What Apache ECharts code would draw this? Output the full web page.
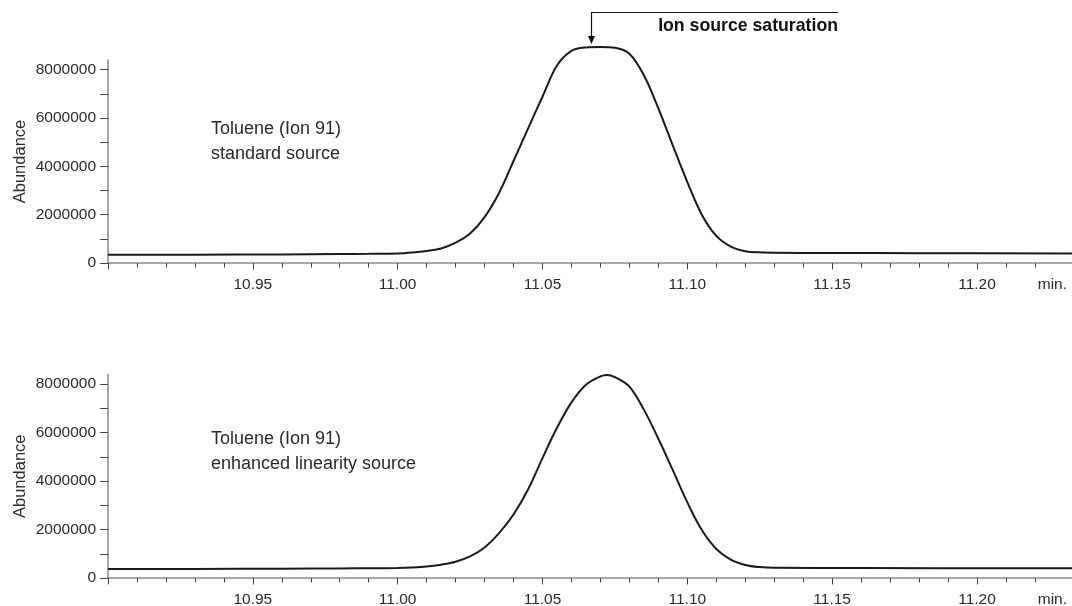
<!DOCTYPE html>
<html>
<head>
<meta charset="utf-8">
<script src="https://cdn.jsdelivr.net/npm/echarts@6/dist/echarts.min.js"></script>
<style>
html,body{margin:0;padding:0;background:#fff;}
#chart{width:1072px;height:606px;}
</style>
</head>
<body>
<div id="chart"></div>
<script>
// ---- data ----
const topTime  = [10.900, 10.930, 10.960, 10.980, 10.990, 11.000, 11.005, 11.010, 11.015, 11.020, 11.025, 11.030, 11.035, 11.040, 11.045, 11.050, 11.055, 11.060, 11.065, 11.070, 11.075, 11.080, 11.085, 11.090, 11.095, 11.100, 11.105, 11.110, 11.115, 11.120, 11.125, 11.130, 11.150, 11.180, 11.2328];
const topAbund = [340000, 345000, 355000, 368000, 378000, 395000, 435000, 500000, 600000, 840000, 1220000, 1900000, 2900000, 4220000, 5560000, 6880000, 8170000, 8780000, 8920000, 8940000, 8910000, 8660000, 7770000, 6400000, 4860000, 3350000, 2000000, 1120000, 680000, 490000, 440000, 425000, 415000, 405000, 390000];

const botTime  = [10.900, 10.930, 10.960, 10.980, 10.990, 11.000, 11.005, 11.010, 11.015, 11.020, 11.025, 11.030, 11.035, 11.040, 11.045, 11.050, 11.055, 11.060, 11.065, 11.070, 11.0722, 11.075, 11.080, 11.085, 11.090, 11.095, 11.100, 11.105, 11.110, 11.115, 11.120, 11.125, 11.130, 11.160, 11.2328];
const botAbund = [370000, 375000, 385000, 395000, 402000, 410000, 430000, 470000, 550000, 670000, 890000, 1260000, 1850000, 2620000, 3650000, 4950000, 6200000, 7250000, 7980000, 8320000, 8380000, 8290000, 7900000, 6950000, 5750000, 4450000, 3120000, 1980000, 1200000, 760000, 540000, 450000, 420000, 410000, 405000];

const xMin = 10.90;
const xMax = 11.2328;
const xLabelValues = [10.95, 11.00, 11.05, 11.10, 11.15, 11.20];
const xTickLabels  = ['10.95', '11.00', '11.05', '11.10', '11.15', '11.20'];
const xMajorTicks  = [10.90, 10.95, 11.00, 11.05, 11.10, 11.15, 11.20];
const xMinorTicks  = [10.91, 10.92, 10.93, 10.94, 10.96, 10.97, 10.98, 10.99, 11.01, 11.02, 11.03, 11.04, 11.06, 11.07, 11.08, 11.09, 11.11, 11.12, 11.13, 11.14, 11.16, 11.17, 11.18, 11.19, 11.21, 11.22, 11.2328];
const xUnit = 'min.';

const yMax = 8400000;
const yLabelValues = [0, 2000000, 4000000, 6000000, 8000000];
const yTickLabels  = ['0', '2000000', '4000000', '6000000', '8000000'];
const yTicks       = [0, 1000000, 2000000, 3000000, 4000000, 5000000, 6000000, 7000000, 8000000];
const yName = 'Abundance';

const topLabel = ['Toluene (Ion 91)', 'standard source'];
const botLabel = ['Toluene (Ion 91)', 'enhanced linearity source'];
const noteText = 'Ion source saturation';

// ---- styling ----
const SANS = '"Liberation Sans", Arial, sans-serif';
const TXT = '#2a2a2a';
const AXIS = '#8a8a8a';
const TICK = '#444';

function fmt(vals, labels) {
  return function (v) {
    for (let i = 0; i < vals.length; i++) if (Math.abs(vals[i] - v) < 1e-6) return labels[i];
    return '';
  };
}

function xAxesFor(gi) {
  return [
    {
      type: 'value', gridIndex: gi, min: xMin, max: xMax, position: 'bottom',
      axisLine: { show: true, lineStyle: { color: AXIS, width: 1.5 } },
      axisTick: { show: true, length: 6.5, customValues: xMajorTicks, lineStyle: { color: TICK, width: 1 } },
      axisLabel: { show: true, customValues: xLabelValues, formatter: fmt(xLabelValues, xTickLabels),
                   margin: 14, color: TXT, fontFamily: SANS, fontSize: 15.5 },
      splitLine: { show: false },
      name: xUnit, nameLocation: 'end', nameGap: -5, nameMoveOverlap: false,
      nameTextStyle: { align: 'right', verticalAlign: 'top', padding: [14, 0, 0, 0], color: TXT, fontFamily: SANS, fontSize: 15.5 }
    },
    {
      type: 'value', gridIndex: gi, min: xMin, max: xMax, position: 'bottom',
      axisLine: { show: false },
      axisTick: { show: true, length: 4.5, customValues: xMinorTicks, lineStyle: { color: TICK, width: 1 } },
      axisLabel: { show: false },
      splitLine: { show: false }
    }
  ];
}

function yAxisFor(gi) {
  return {
    type: 'value', gridIndex: gi, min: 0, max: yMax, position: 'left',
    axisLine: { show: true, lineStyle: { color: AXIS, width: 1.5 } },
    axisTick: { show: true, length: 8, customValues: yTicks, lineStyle: { color: TICK, width: 1 } },
    axisLabel: { show: true, customValues: yLabelValues, formatter: fmt(yLabelValues, yTickLabels),
                 margin: 12, color: TXT, fontFamily: SANS, fontSize: 15.5 },
    splitLine: { show: false },
    name: yName, nameLocation: 'middle', nameGap: 79, nameRotate: 90, nameMoveOverlap: false,
    nameTextStyle: { color: TXT, fontFamily: SANS, fontSize: 16.5 }
  };
}

function seriesFor(gi, t, v) {
  return {
    type: 'line', xAxisIndex: gi * 2, yAxisIndex: gi,
    data: t.map((x, i) => [x, v[i]]),
    showSymbol: false, symbol: 'none', smooth: 0.35,
    clip: false,
    lineStyle: { color: '#1a1a1a', width: 2 },
    silent: true, animation: false
  };
}

const chart = echarts.init(document.getElementById('chart'), null, { renderer: 'canvas' });
chart.setOption({
  backgroundColor: '#fff',
  animation: false,
  grid: [
    { left: 108, top: 60, height: 203, right: 0, outerBoundsMode: 'none', containLabel: false },
    { left: 108, top: 374.5, height: 203.5, right: 0, outerBoundsMode: 'none', containLabel: false }
  ],
  xAxis: [].concat(xAxesFor(0), xAxesFor(1)),
  yAxis: [yAxisFor(0), yAxisFor(1)],
  series: [seriesFor(0, topTime, topAbund), seriesFor(1, botTime, botAbund)],
  graphic: [
    { type: 'text', left: 211, top: 120, style: { text: topLabel[0], font: '18px ' + SANS, fill: TXT } },
    { type: 'text', left: 211, top: 145, style: { text: topLabel[1], font: '18px ' + SANS, fill: TXT } },
    { type: 'text', left: 211, top: 430, style: { text: botLabel[0], font: '18px ' + SANS, fill: TXT } },
    { type: 'text', left: 211, top: 455, style: { text: botLabel[1], font: '18px ' + SANS, fill: TXT } },
    { type: 'polyline', shape: { points: [[838, 12.5], [591.5, 12.5], [591.5, 38]] }, style: { stroke: '#111', lineWidth: 1.2, fill: null } },
    { type: 'polygon', shape: { points: [[588, 36], [595, 36], [591.5, 44]] }, style: { fill: '#111' } },
    { type: 'text', x: 838, y: 26, style: { text: noteText, font: 'bold 17.7px ' + SANS, fill: '#111', align: 'right', verticalAlign: 'middle' } }
  ]
});
</script>
</body>
</html>
